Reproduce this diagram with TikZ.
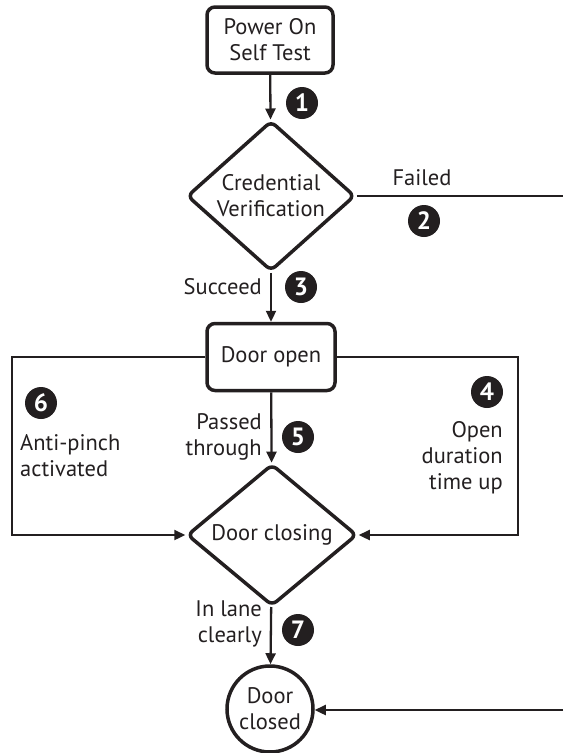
\documentclass[tikz,border=0pt]{standalone}
\usepackage{fontspec}
\setmainfont{PT Sans}
\usetikzlibrary{shapes.geometric,arrows.meta}
\definecolor{ink}{HTML}{231F20}
\begin{document}
\begin{tikzpicture}[x=1pt,y=-1pt,
  every node/.style={text=ink,font=\fontsize{22.5}{26}\selectfont},
  boxst/.style={draw=ink,line width=3.5pt,rounded corners=8pt,minimum width=126pt,minimum height=66pt,inner sep=0pt,align=center},
  diast/.style={draw=ink,line width=3.5pt,diamond,rounded corners=6pt,inner sep=0pt,align=center},
  circst/.style={draw=ink,line width=3.5pt,circle,minimum size=86pt,inner sep=0pt,align=center},
  badge/.style={circle,fill=ink,minimum size=32pt,inner sep=0pt,text=white,font=\fontsize{25}{25}\selectfont\bfseries},
  conn/.style={draw=ink,line width=2.3pt},
  arr/.style={conn,-{Triangle[length=11pt,width=10pt]}},
  lbl/.style={inner sep=0pt}
]
\useasboundingbox (0,0) rectangle (563,753);
\node[boxst] (post) at (270,40) {Power On\\Self Test};
\node[diast,minimum width=168pt,minimum height=112pt] (cred) at (271,196) {Credential\\Verification};
\node[boxst,minimum width=128pt,minimum height=67pt] (open) at (271,357) {Door open};
\node[diast,minimum width=170pt,minimum height=104pt] (closing) at (272,535) {Door closing};
\node[circst] (closed) at (270,709) {Door\\closed};

\coordinate (failend) at (563,196);
\coordinate (lt) at (12,357);
\coordinate (lb) at (12,535);
\coordinate (rt) at (518,357);
\coordinate (rb) at (518,535);
\coordinate (closedin) at (563,710);

\draw[arr] (post) -- (cred);
\draw[conn] (cred.east) -- (failend);
\draw[arr] (cred) -- (open);
\draw[arr] (open) -- (closing);
\draw[arr] (open.west) -- (lt) -- (lb) -- (closing.west);
\draw[arr] (open.east) -- (rt) -- (rb) -- (closing.east);
\draw[arr] (closing) -- (closed);
\draw[arr] (closedin) -- (closed.east |- closedin);

\node[badge] (b1) at (302,103) {1};
\node[badge] (b2) at (424,221) {2};
\node[badge] (b3) at (301,287) {3};
\node[badge] (b4) at (487,392) {4};
\node[badge] (b5) at (298,437) {5};
\node[badge] (b6) at (41,403) {6};
\node[badge] (b7) at (298,630) {7};

\node[lbl] (failed) at (422,178) {Failed};
\node[lbl,anchor=east] (succeed) at (262,287) {Succeed};
\node[lbl,anchor=west,align=left] (anti) at (20,456) {Anti-pinch\\activated};
\node[lbl,anchor=east,align=right] (passed) at (262,437) {Passed\\through};
\node[lbl,anchor=east,align=right] (dur) at (503,458) {Open\\duration\\time up};
\node[lbl,anchor=east,align=right] (lane) at (262,624) {In lane\\clearly};
\end{tikzpicture}
\end{document}
